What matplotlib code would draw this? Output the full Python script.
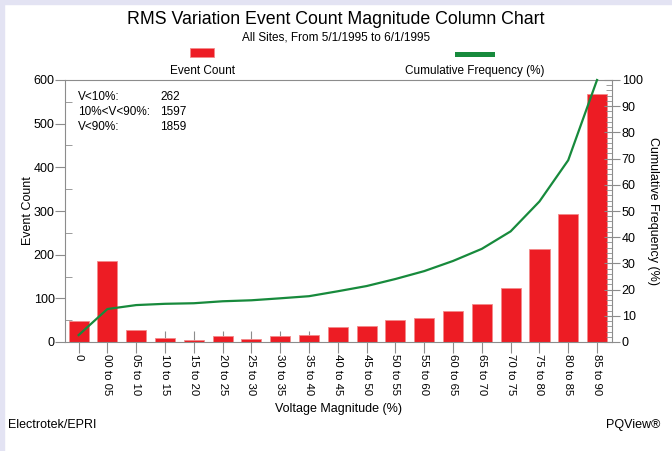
import numpy as np
import matplotlib
matplotlib.use('Agg')
import matplotlib.pyplot as plt
from matplotlib.patches import Rectangle
from matplotlib.ticker import MultipleLocator

plt.rcParams['font.family'] = ['Liberation Sans Narrow', 'Liberation Sans', 'DejaVu Sans']

# voltage magnitude bins and event counts
bins = ['0', '00 to 05', '05 to 10', '10 to 15', '15 to 20', '20 to 25', '25 to 30',
        '30 to 35', '35 to 40', '40 to 45', '45 to 50', '50 to 55', '55 to 60',
        '60 to 65', '65 to 70', '70 to 75', '75 to 80', '80 to 85', '85 to 90']
counts = [49, 185, 28, 9, 4, 14, 7, 14, 15, 35, 37, 50, 56, 72, 86, 124, 212, 293, 569]

counts = np.array(counts)
cum_pct = np.cumsum(counts) / counts.sum() * 100
n_low = counts[:3].sum()
n_mid = counts[3:].sum()
n_all = counts.sum()

RED = '#ed1c24'
GREEN = '#178a3c'
GRAY = '#8c8c8c'

fig = plt.figure(figsize=(6.72, 4.51), dpi=100)
fig.patch.set_facecolor('white')
# lavender frame strips (left/top)
fig.patches.append(Rectangle((0, 0), 4 / 672, 1, transform=fig.transFigure,
                             color='#e3e3f3', zorder=0))
fig.patches.append(Rectangle((0, 1 - 4 / 451), 1, 4 / 451, transform=fig.transFigure,
                             color='#e3e3f3', zorder=0))

ax = fig.add_axes([64.5 / 672, 1 - 342 / 451, (612 - 64.5) / 672, (342 - 80) / 451])
x = np.arange(len(bins))
ax.bar(x, counts, width=0.7, color=RED, edgecolor='#f38a8a', linewidth=0.6, zorder=2)
ax.set_xlim(-0.49, 18.52)
ax.set_ylim(0, 600)
ax.yaxis.set_major_locator(MultipleLocator(100))
ax.yaxis.set_minor_locator(MultipleLocator(50))
ax.set_xticks(x)
ax.set_xticklabels(bins, rotation=270, fontsize=8.2)
ax.tick_params(axis='x', direction='inout', length=16, color=GRAY, pad=1)
ax.tick_params(axis='y', which='major', direction='out', length=7, color=GRAY, labelsize=9, pad=0)
ax.tick_params(axis='y', which='minor', direction='in', length=5, color=GRAY)
for s in ['left', 'bottom', 'top']:
    ax.spines[s].set_color(GRAY)
ax.spines['right'].set_visible(False)
ax.set_ylabel('Event Count', fontsize=9)
ax.yaxis.set_label_coords(-0.067, 0.5)
ax.yaxis.label.set_verticalalignment('center')
ax.set_xlabel('Voltage Magnitude (%)', fontsize=9)
ax.xaxis.set_label_coords(0.5, -0.232)

ax2 = ax.twinx()
ax2.plot(x, cum_pct, color=GREEN, linewidth=1.6, zorder=3, clip_on=False)
ax2.set_ylim(0, 100)
ax2.yaxis.set_major_locator(MultipleLocator(10))
ax2.yaxis.set_minor_locator(MultipleLocator(2))
ax2.tick_params(axis='y', which='major', direction='inout', length=12, color=GRAY, labelsize=9, pad=1)
ax2.tick_params(axis='y', which='minor', direction='in', length=4, color=GRAY)
for s in ['left', 'bottom', 'top']:
    ax2.spines[s].set_visible(False)
ax2.spines['right'].set_color(GRAY)
ax2.set_ylabel('Cumulative Frequency (%)', fontsize=9, rotation=270)
ax2.yaxis.set_label_coords(1.074, 0.5)
ax2.yaxis.label.set_verticalalignment('center')

# summary text
rows = [('V<10%:', n_low), ('10%<V<90%:', n_mid), ('V<90%:', n_all)]
for i, (lab, val) in enumerate(rows):
    ax.text(0.025, 0.935 - i * 0.057, lab, transform=ax.transAxes, fontsize=8.5, va='center')
    ax.text(0.175, 0.935 - i * 0.057, f'{val}', transform=ax.transAxes, fontsize=8.5, va='center')

# titles
fig.text(0.5, 1 - 19 / 451, 'RMS Variation Event Count Magnitude Column Chart',
         ha='center', va='center', fontsize=12.8)
fig.text(0.5, 1 - 38 / 451, 'All Sites, From 5/1/1995 to 6/1/1995',
         ha='center', va='center', fontsize=8.5)

# legend drawn above the plot
fig.patches.append(Rectangle((190 / 672, 1 - 57 / 451), 24 / 672, 9 / 451,
                             transform=fig.transFigure, facecolor=RED, edgecolor='#f38a8a',
                             linewidth=0.6))
fig.text(202 / 672, 1 - 71 / 451, 'Event Count', ha='center', va='center', fontsize=8.5)
fig.patches.append(Rectangle((455 / 672, 1 - 57 / 451), 40 / 672, 5 / 451,
                             transform=fig.transFigure, facecolor=GREEN, edgecolor='none'))
fig.text(475 / 672, 1 - 71 / 451, 'Cumulative Frequency (%)', ha='center', va='center', fontsize=8.5)

# footer
fig.text(8 / 672, 1 - 425 / 451, 'Electrotek/EPRI', ha='left', va='center', fontsize=9)
fig.text(660 / 672, 1 - 425 / 451, 'PQView\u00ae', ha='right', va='center', fontsize=9)

fig.savefig('out.png', dpi=100)
